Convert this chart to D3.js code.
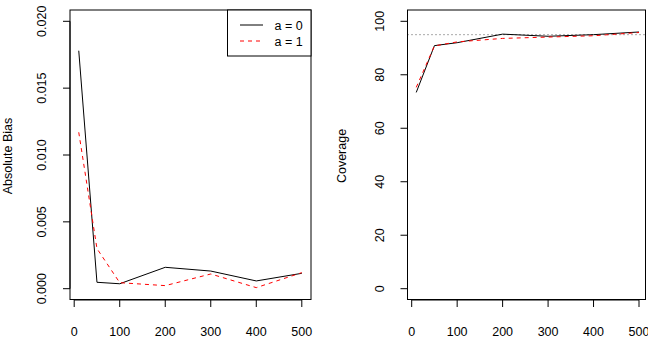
<!DOCTYPE html>
<html>
<head>
<meta charset="utf-8">
<script src="https://cdn.jsdelivr.net/npm/d3@7"></script>
<style>
  body { margin: 0; background: #fff; }
  text { font-family: "Liberation Sans", Arial, sans-serif; fill: #000; }
</style>
</head>
<body>
<script>
const sampleSizes = [10, 50, 100, 200, 300, 400, 500]
const xTicks = [0, 100, 200, 300, 400, 500]

// absolute bias
const biasA0 = [0.0178, 0.00048, 0.00037, 0.0016, 0.00132, 0.00058, 0.00115]
const biasA1 = [0.0117, 0.0030, 0.00045, 0.00023, 0.0011, 0.00008, 0.0012]
const biasTicks = [0, 0.005, 0.010, 0.015, 0.020]

// coverage (%)
const covA0 = [73.4, 90.9, 92.0, 95.2, 94.4, 95.0, 96.0]
const covA1 = [75.3, 90.8, 92.3, 93.6, 94.1, 94.6, 95.8]
const covTicks = [0, 20, 40, 60, 80, 100]
const nominal = 95

const legendLabels = ["a = 0", "a = 1"]

const svg = d3.select("body").append("svg")
    .attr("width", 648)
    .attr("height", 363)

svg.append("rect").attr("width", 648).attr("height", 363).attr("fill", "#fff")

function panel(opts) {
    const g = svg.append("g")
    const x = d3.scaleLinear().domain([0, 500]).range(opts.xr)
    const y = d3.scaleLinear().domain(opts.yd).range([288.7, 21.3])

    const line = d3.line()
        .x((d, i) => x(sampleSizes[i]))
        .y(d => y(d))

    if (opts.ref !== undefined) {
        g.append("line")
            .attr("x1", opts.box[0]).attr("x2", opts.box[1])
            .attr("y1", y(opts.ref)).attr("y2", y(opts.ref))
            .attr("stroke", "#555")
            .attr("stroke-width", 1)
            .attr("stroke-dasharray", "1,3")
    }

    g.append("path")
        .attr("d", line(opts.s0))
        .attr("fill", "none")
        .attr("stroke", "#000")
        .attr("stroke-width", 1)

    g.append("path")
        .attr("d", line(opts.s1))
        .attr("fill", "none")
        .attr("stroke", "red")
        .attr("stroke-width", 1)
        .attr("stroke-dasharray", "4,4")

    // plot frame
    g.append("rect")
        .attr("x", opts.box[0]).attr("y", 10)
        .attr("width", opts.box[1] - opts.box[0]).attr("height", 289.5)
        .attr("fill", "none").attr("stroke", "#000").attr("stroke-width", 1)

    // x axis (R style, detached)
    const xa = g.append("g").attr("transform", "translate(0,300)")
    xa.append("line")
        .attr("x1", x(0)).attr("x2", x(500))
        .attr("y1", 0).attr("y2", 0)
        .attr("stroke", "#000")
    xa.selectAll("line.tick").data(xTicks).enter().append("line")
        .attr("class", "tick")
        .attr("x1", d => x(d)).attr("x2", d => x(d))
        .attr("y1", 0).attr("y2", 7)
        .attr("stroke", "#000")
    xa.selectAll("text").data(xTicks).enter().append("text")
        .attr("x", d => x(d)).attr("y", 35.5)
        .attr("text-anchor", "middle")
        .attr("font-size", 12.5)
        .text(d => d)

    // y axis
    const ya = g.append("g").attr("transform", `translate(${opts.box[0]},0)`)
    ya.append("line")
        .attr("x1", 0).attr("x2", 0)
        .attr("y1", y(opts.yTicks[0])).attr("y2", y(opts.yTicks[opts.yTicks.length - 1]))
        .attr("stroke", "#000")
    ya.selectAll("line.tick").data(opts.yTicks).enter().append("line")
        .attr("class", "tick")
        .attr("x1", 0).attr("x2", -7)
        .attr("y1", d => y(d)).attr("y2", d => y(d))
        .attr("stroke", "#000")
    ya.selectAll("text").data(opts.yTicks).enter().append("text")
        .attr("transform", d => `translate(-24,${y(d)}) rotate(-90)`)
        .attr("text-anchor", "middle")
        .attr("font-size", 12.5)
        .text(opts.fmt)

    g.append("text")
        .attr("transform", `translate(${opts.titleX},156) rotate(-90)`)
        .attr("text-anchor", "middle")
        .attr("font-size", 12.5)
        .text(opts.title)

    return { x, y, g }
}

panel({
    xr: [74.2, 301.8], box: [70, 311], yd: [0, 0.020],
    s0: biasA0, s1: biasA1, yTicks: biasTicks,
    fmt: d3.format(".3f"), title: "Absolute Bias", titleX: 11.5
})

panel({
    xr: [411.7, 639], box: [407.5, 645.5], yd: [0, 100],
    s0: covA0, s1: covA1, yTicks: covTicks, ref: nominal,
    fmt: d => d, title: "Coverage", titleX: 346
})

// legend
const leg = svg.append("g")
leg.append("rect")
    .attr("x", 227.5).attr("y", 10)
    .attr("width", 83.5).attr("height", 46)
    .attr("fill", "#fff").attr("stroke", "#000")
leg.selectAll("line").data(legendLabels).enter().append("line")
    .attr("x1", 240).attr("x2", 263)
    .attr("y1", (d, i) => 25 + i * 16).attr("y2", (d, i) => 25 + i * 16)
    .attr("stroke", (d, i) => i === 0 ? "#000" : "red")
    .attr("stroke-dasharray", (d, i) => i === 0 ? null : "4,4")
leg.selectAll("text").data(legendLabels).enter().append("text")
    .attr("x", 274.5).attr("y", (d, i) => 30 + i * 16)
    .attr("font-size", 12.5)
    .text(d => d)
</script>
</body>
</html>
